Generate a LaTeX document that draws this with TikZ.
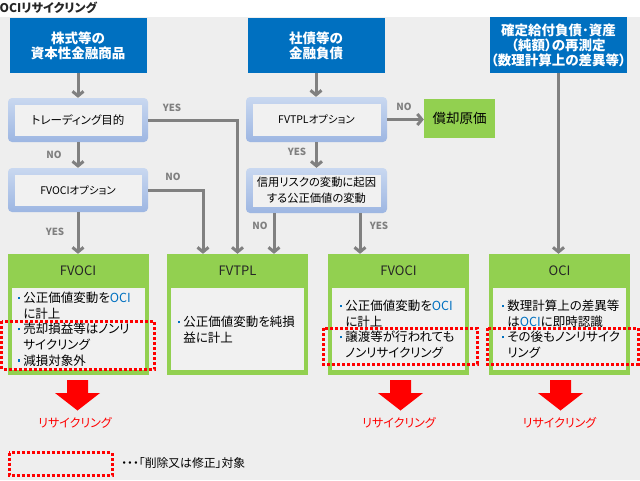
\documentclass[tikz,border=0pt]{standalone}
\usepackage{fontspec}
\setmainfont[RawFeature=+palt]{Noto Sans CJK JP}
\usetikzlibrary{arrows.meta,positioning}

\definecolor{bggray}{HTML}{EEEEEE}
\definecolor{srcblue}{HTML}{0070C0}
\definecolor{resgreen}{HTML}{92D050}
\definecolor{panelgray}{HTML}{F1F1F1}
\definecolor{flowgray}{HTML}{808080}
\definecolor{labelgray}{HTML}{7F7F7F}
\definecolor{decTop}{HTML}{C9D8F0}
\definecolor{decBot}{HTML}{9DB6E2}
\definecolor{titletext}{HTML}{262626}

\newcommand\bulmark{\textcolor{srcblue}{\rule[3.6pt]{2.2pt}{2.2pt}}\hspace{3pt}}
\newcommand\hangsp{\hspace*{5.2pt}}
\newcommand\ocitext{\textcolor{srcblue}{OCI}}

\begin{document}
\begin{tikzpicture}[x=1pt,y=-1pt,
    flow/.style={draw=flowgray, line width=3pt, -{Straight Barb[length=4.5pt,width=11pt]}},
    yn/.style={text=labelgray, font=\fontsize{9.8}{11}\selectfont\bfseries, inner sep=0pt},
    srcbox/.style={fill=srcblue, text=white, font=\fontsize{13.5}{15}\selectfont\bfseries,
        align=center, minimum width=137pt, minimum height=55pt, inner sep=0pt},
    decframe/.style={rounded corners=4pt, top color=decTop, bottom color=decBot,
        minimum width=140pt, minimum height=44pt, inner sep=0pt},
    decbox/.style={fill=panelgray, minimum width=127pt, minimum height=31pt,
        inner sep=0pt, align=center},
    resbox/.style={fill=resgreen, minimum width=141pt, minimum height=121pt, inner sep=0pt},
    respanel/.style={fill=panelgray, minimum width=133pt, minimum height=82pt, inner sep=0pt},
    reshead/.style={font=\fontsize{13}{15}\selectfont, text=black!85, inner sep=0pt},
    resbody/.style={font=\fontsize{12.5}{15.6}\selectfont, align=left, anchor=north west, inner sep=0pt},
    delbox/.style={draw=red, line width=3pt, dash pattern=on 3pt off 2pt},
    recyc/.style={fill=red},
    recyctxt/.style={text=red, font=\fontsize{12}{14}\selectfont, inner sep=0pt}]

    \useasboundingbox (0,0) rectangle (640,480);
    \fill[white] (0,0) rectangle (640,17);
    \fill[bggray] (0,17) rectangle (640,480);
    \node[anchor=west, inner sep=0pt, text=titletext, font=\fontsize{12}{14}\selectfont\bfseries] (title) at (-0.5,8) {OCIリサイクリング};

    % sources
    \node[srcbox] (stock) at (78,45.5) {株式等の\\資本性金融商品};
    \node[srcbox] (bond) at (316,45.5) {社債等の\\金融負債};
    \node[srcbox, minimum height=56pt] (remeas) at (558.5,45) {確定給付負債･資産\\（純額）の再測定\\（数理計算上の差異等）};

    % decisions
    \node[decframe] (trdF) at (78,120) {};
    \node[decbox, font=\fontsize{11.5}{13}\selectfont] (trd) at (trdF) {トレーディング目的};
    \node[decframe] (fvoF) at (78,190) {};
    \node[decbox, font=\fontsize{10.5}{12}\selectfont] (fvo) at (fvoF) {FVOCIオプション};
    \node[decframe, minimum width=141pt, minimum height=45pt] (fvtplF) at (316.5,119.5) {};
    \node[decbox, minimum width=128pt, minimum height=32pt, font=\fontsize{10.5}{12}\selectfont] (fvtpl) at (fvtplF) {FVTPLオプション};
    \node[decframe, minimum width=141pt, minimum height=45pt] (credF) at (316.5,190.5) {};
    \node[decbox, minimum width=128pt, minimum height=32pt, font=\fontsize{11.3}{16}\selectfont] (cred) at (credF) {信用リスクの変動に起因\\する公正価値の変動};
    \node[fill=resgreen, minimum width=71pt, minimum height=39pt, inner sep=0pt, font=\fontsize{13.5}{15}\selectfont] (amort) at (459.5,118.5) {償却原価};

    % results
    \node[resbox] (rFvA) at (78,314.5) {};
    \node[respanel, above=5pt of rFvA.south] (rFvAp) {};
    \node[reshead] (rFvAh) at ([yshift=-17pt]rFvA.north) {FVOCI};
    \node[resbody] (rFvAt) at (18,292) {\bulmark 公正価値変動を\ocitext\\\hangsp に計上\\\bulmark 売却損益等はノンリ\\\hangsp サイクリング\\\bulmark 減損対象外};

    \node[resbox] (rFvT) at (237.5,314.5) {};
    \node[respanel, above=5pt of rFvT.south] (rFvTp) {};
    \node[reshead] (rFvTh) at ([yshift=-17pt]rFvT.north) {FVTPL};
    \node[resbody] (rFvTt) at (178,316) {\bulmark 公正価値変動を純損\\\hangsp 益に計上};

    \node[resbox] (rFvB) at (398.5,314.5) {};
    \node[respanel, above=5pt of rFvB.south] (rFvBp) {};
    \node[reshead] (rFvBh) at ([yshift=-17pt]rFvB.north) {FVOCI};
    \node[resbody] (rFvBt) at (340,300) {\bulmark 公正価値変動を\ocitext\\\hangsp に計上\\\bulmark 譲渡等が行われても\\\hangsp ノンリサイクリング};

    \node[resbox] (rOci) at (559.5,314.5) {};
    \node[respanel, above=5pt of rOci.south] (rOcip) {};
    \node[reshead] (rOcih) at ([yshift=-17pt]rOci.north) {OCI};
    \node[resbody] (rOcit) at (502,300) {\bulmark 数理計算上の差異等\\\hangsp は\ocitext に即時認識\\\bulmark その後もノンリサイク\\\hangsp リング};

    % connectors
    \draw[flow] (stock) -- (trdF);
    \draw[flow] (trdF) -- (fvoF);
    \draw[flow] (fvoF) -- (rFvA);
    \draw[flow] (trdF.east) -| (rFvT.north);
    \draw[flow] (fvoF.east) -| ([xshift=-34.5pt]rFvT.north);
    \draw[flow] (bond.south) -- (bond.south |- fvtplF.north);
    \draw[flow] (fvtplF.east) -- (fvtplF.east -| amort.west);
    \draw[flow] (fvtplF) -- (credF);
    \draw[flow] ([xshift=-42.5pt]credF.south) -- ([xshift=-42.5pt]credF.south |- rFvT.north);
    \draw[flow] ([xshift=43.5pt]credF.south) -- ([xshift=43.5pt]credF.south |- rFvB.north);
    \draw[flow] (remeas.south) -- (remeas.south |- rOci.north);

    \node[yn] (ynA) at (54,155) {NO};
    \node[yn] (ynB) at (55,232) {YES};
    \node[yn] (ynC) at (172,108) {YES};
    \node[yn] (ynD) at (173,177) {NO};
    \node[yn] (ynE) at (404,107) {NO};
    \node[yn] (ynF) at (297,152) {YES};
    \node[yn] (ynG) at (260,226) {NO};
    \node[yn] (ynH) at (379,226) {YES};

    % recycling
    \foreach \ax/\nm/\tx in {77.5/A/75, 400.5/B/399, 560.5/C/559.5} {
        \fill[recyc] (\ax-10.5,380) -- (\ax+10.5,380) -- (\ax+10.5,393) -- (\ax+22.5,393)
            -- (\ax,410.5) -- (\ax-22.5,393) -- (\ax-10.5,393) -- cycle;
        \node[recyctxt] (rec\nm) at (\tx,423) {リサイクリング};
    }

    % deletion / amendment
    \draw[delbox] (1.5,321) rectangle (154,369);
    \draw[delbox] (323,328) rectangle (477,364);
    \draw[delbox] (487,328) rectangle (638,364);
    \draw[delbox] (9,452.5) rectangle (112,475);
    \node[anchor=west, inner sep=0pt, font=\fontsize{11.8}{13}\selectfont] (legend) at (121,463) {・・・「削除又は修正」対象};
\end{tikzpicture}
\end{document}
